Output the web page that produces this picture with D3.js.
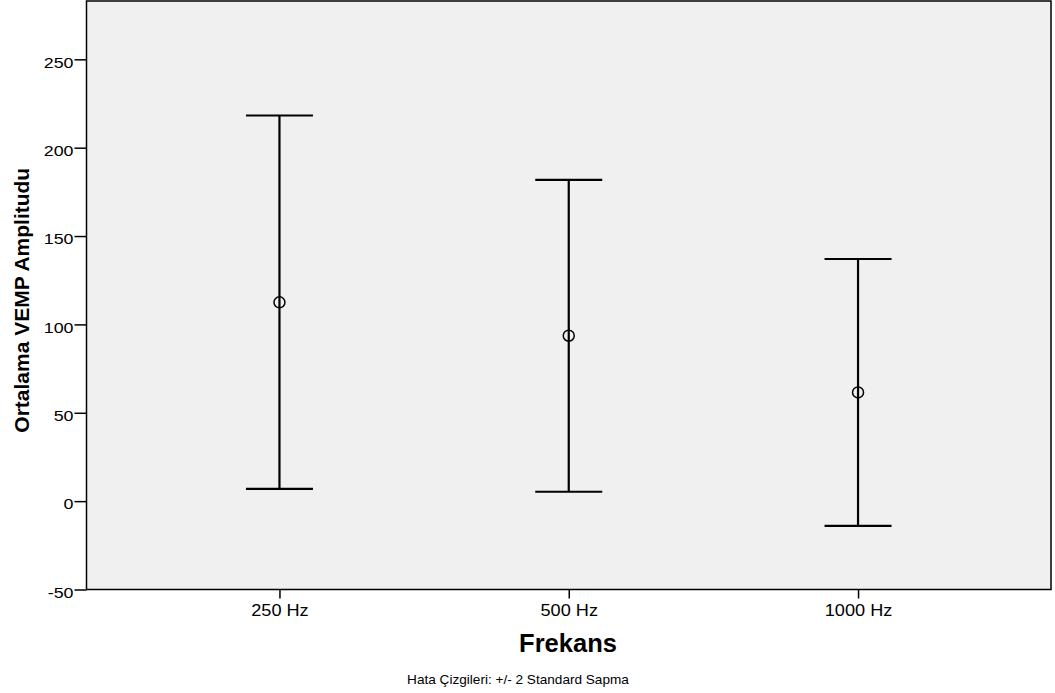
<!DOCTYPE html>
<html>
<head>
<meta charset="utf-8">
<script src="https://cdn.jsdelivr.net/npm/d3@7"></script>
<style>
  html, body { margin: 0; padding: 0; background: #fff; }
  svg { display: block; font-family: "Liberation Sans", Arial, sans-serif; }
</style>
</head>
<body>
<svg id="chart" width="1055" height="693"></svg>
<script>
// Mean VEMP amplitude per stimulus frequency, error bars = mean ± 2 SD
const categories = ["250 Hz", "500 Hz", "1000 Hz"];
const means = [112.5, 93.6, 61.5];
const lowers = [6.9, 5.3, -14.0];
const uppers = [218.2, 181.8, 137.0];
const yTicks = [-50, 0, 50, 100, 150, 200, 250];

const svg = d3.select("#chart");
const plot = { left: 86.5, right: 1051, top: 1, bottom: 589.5 };
const FONT = "Liberation Sans, Arial, sans-serif";

const x = d3.scalePoint()
  .domain(categories)
  .range([plot.left, plot.right])
  .padding(0.667);

const y = d3.scaleLinear()
  .domain([-50, 283])
  .range([plot.bottom, plot.top]);

// plot background
svg.append("rect")
  .attr("x", plot.left).attr("y", plot.top)
  .attr("width", plot.right - plot.left)
  .attr("height", plot.bottom - plot.top)
  .attr("fill", "#f0f0f0")
  .attr("stroke", "#000")
  .attr("stroke-width", 1.5);

// y axis (labels slightly widened, hyphen as minus sign)
const yStretch = 1.15;
const yAxis = svg.append("g")
  .attr("transform", `translate(${plot.left},0)`)
  .call(d3.axisLeft(y).tickValues(yTicks).tickSize(12).tickFormat(d => String(d)));
yAxis.select(".domain").remove();
yAxis.selectAll(".tick line").attr("stroke", "#000").attr("stroke-width", 1.5);
yAxis.selectAll(".tick text")
  .attr("fill", "#000").attr("font-size", 15.5).attr("font-family", FONT)
  .attr("x", -13 / yStretch).attr("dy", "0.5em")
  .attr("transform", `scale(${yStretch},1)`);

// x axis
const xStretch = 1.1;
const xAxis = svg.append("g")
  .attr("transform", `translate(0,${plot.bottom})`)
  .call(d3.axisBottom(x).tickSize(9));
xAxis.select(".domain").remove();
xAxis.selectAll(".tick line").attr("stroke", "#000").attr("stroke-width", 1.5);
xAxis.selectAll(".tick text")
  .attr("fill", "#000").attr("font-size", 16.5).attr("font-family", FONT)
  .attr("y", 26.5).attr("dy", 0)
  .attr("transform", `scale(${xStretch},1)`);

// error bars
const capHalf = 33.5;
const bars = svg.append("g").selectAll("g")
  .data(categories.map((c, i) => ({ c, mean: means[i], lo: lowers[i], hi: uppers[i] })))
  .join("g");

bars.append("line")
  .attr("x1", d => x(d.c)).attr("x2", d => x(d.c))
  .attr("y1", d => y(d.hi)).attr("y2", d => y(d.lo))
  .attr("stroke", "#000").attr("stroke-width", 2.2);
bars.append("line")
  .attr("x1", d => x(d.c) - capHalf).attr("x2", d => x(d.c) + capHalf)
  .attr("y1", d => y(d.hi)).attr("y2", d => y(d.hi))
  .attr("stroke", "#000").attr("stroke-width", 2.2);
bars.append("line")
  .attr("x1", d => x(d.c) - capHalf).attr("x2", d => x(d.c) + capHalf)
  .attr("y1", d => y(d.lo)).attr("y2", d => y(d.lo))
  .attr("stroke", "#000").attr("stroke-width", 2.2);
bars.append("circle")
  .attr("cx", d => x(d.c)).attr("cy", d => y(d.mean))
  .attr("r", 5.5)
  .attr("fill", "none")
  .attr("stroke", "#000").attr("stroke-width", 1.5);

// axis titles
svg.append("text")
  .attr("transform", `translate(29,${(plot.top + plot.bottom) / 2 + 5}) rotate(-90)`)
  .attr("text-anchor", "middle")
  .attr("font-size", 21).attr("font-weight", "bold")
  .text("Ortalama VEMP Amplitudu");

svg.append("text")
  .attr("x", 568).attr("y", 652)
  .attr("text-anchor", "middle")
  .attr("font-size", 25.5).attr("font-weight", "bold")
  .text("Frekans");

svg.append("text")
  .attr("x", 518).attr("y", 684)
  .attr("text-anchor", "middle")
  .attr("font-size", 13.6)
  .text("Hata Çizgileri: +/- 2 Standard Sapma");
</script>
</body>
</html>
